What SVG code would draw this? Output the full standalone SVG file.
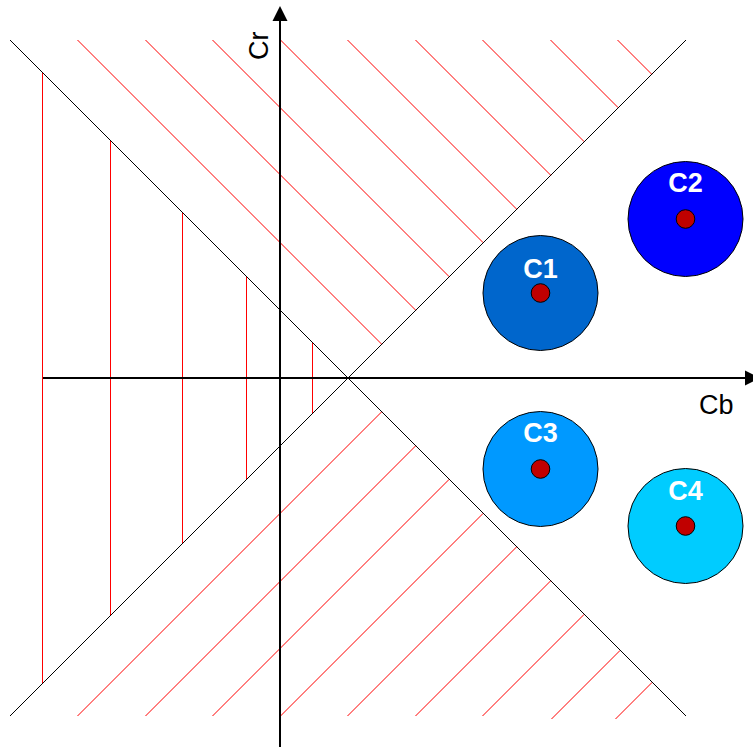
<svg xmlns="http://www.w3.org/2000/svg" width="753" height="747" viewBox="0 0 753 747">
<style>
.hatch{stroke:#ff0000;stroke-width:1;fill:none}
.bound{stroke:#000;stroke-width:1;fill:none}
.axis{stroke:#000;stroke-width:2;fill:none}
.big{stroke:#000;stroke-width:1}
.dot{fill:#c00000;stroke:#000;stroke-width:1}
.lbl{font-family:"Liberation Sans",Arial,sans-serif;font-size:27px;font-weight:bold;fill:#fff;text-anchor:middle}
.ax{font-family:"Liberation Sans",Arial,sans-serif;font-size:27px;fill:#000}
</style>
<rect width="753" height="747" fill="#fff"/>
<g id="connectors">
  <g id="hatch-top">
    <line class="hatch" x1="77.5" y1="40" x2="381.75" y2="344.25"/>
    <line class="hatch" x1="145.5" y1="40" x2="415.75" y2="310.25"/>
    <line class="hatch" x1="212.5" y1="40" x2="449.25" y2="276.75"/>
    <line class="hatch" x1="280.5" y1="40" x2="483.25" y2="242.75"/>
    <line class="hatch" x1="347.5" y1="40" x2="516.75" y2="209.25"/>
    <line class="hatch" x1="415.5" y1="40" x2="550.75" y2="175.25"/>
    <line class="hatch" x1="482.5" y1="40" x2="584.25" y2="141.75"/>
    <line class="hatch" x1="550.5" y1="40" x2="618.25" y2="107.75"/>
    <line class="hatch" x1="617.5" y1="40" x2="651.75" y2="74.25"/>
  </g>
  <g id="hatch-bottom">
    <line class="hatch" x1="77.5" y1="716" x2="381.75" y2="411.75"/>
    <line class="hatch" x1="145.5" y1="716" x2="415.75" y2="445.75"/>
    <line class="hatch" x1="212.5" y1="716" x2="449.25" y2="479.25"/>
    <line class="hatch" x1="280.5" y1="716" x2="483.25" y2="513.25"/>
    <line class="hatch" x1="347.5" y1="716" x2="516.75" y2="546.75"/>
    <line class="hatch" x1="415.5" y1="716" x2="550.75" y2="580.75"/>
    <line class="hatch" x1="482.5" y1="716" x2="584.25" y2="614.25"/>
    <line class="hatch" x1="551.5" y1="719" x2="620.25" y2="650.25"/>
    <line class="hatch" x1="615.5" y1="719" x2="652.25" y2="682.25"/>
  </g>
  <g id="hatch-left">
    <line class="hatch" x1="42.5" y1="72.5" x2="42.5" y2="683.5"/>
    <line class="hatch" x1="110.5" y1="140.5" x2="110.5" y2="615.5"/>
    <line class="hatch" x1="182.5" y1="212.5" x2="182.5" y2="543.5"/>
    <line class="hatch" x1="246.5" y1="276.5" x2="246.5" y2="479.5"/>
    <line class="hatch" x1="312.5" y1="342.5" x2="312.5" y2="413.5"/>
  </g>
  <g id="boundaries">
    <line class="bound" x1="10" y1="40" x2="686" y2="716"/>
    <line class="bound" x1="10" y1="716" x2="686" y2="40"/>
  </g>
  <g id="axes">
    <line class="axis" x1="43" y1="378" x2="746" y2="378"/>
    <polygon points="745,370.5 760,378 745,385.5" fill="#000"/>
    <line class="axis" x1="280" y1="747" x2="280" y2="20"/>
    <polygon points="272.5,21 287.5,21 280,6" fill="#000"/>
    <text class="ax" x="699" y="414">Cb</text>
    <text class="ax" transform="translate(268,60) rotate(-90)" x="0" y="0">Cr</text>
  </g>
</g>
<g id="C1">
  <circle class="big" cx="540.5" cy="293" r="57.5" fill="#0066cc"/>
  <circle class="dot" cx="540.5" cy="293" r="9.3"/>
  <text class="lbl" x="540.5" y="278">C1</text>
</g>
<g id="C2">
  <circle class="big" cx="685.5" cy="219" r="57.5" fill="#0000ff"/>
  <circle class="dot" cx="685.5" cy="219" r="9.3"/>
  <text class="lbl" x="685.5" y="192">C2</text>
</g>
<g id="C3">
  <circle class="big" cx="540.5" cy="469" r="57.5" fill="#0099ff"/>
  <circle class="dot" cx="540.5" cy="469" r="9.3"/>
  <text class="lbl" x="540.5" y="442">C3</text>
</g>
<g id="C4">
  <circle class="big" cx="685.5" cy="526" r="57.5" fill="#00ccff"/>
  <circle class="dot" cx="685.5" cy="526" r="9.3"/>
  <text class="lbl" x="685.5" y="500">C4</text>
</g>
</svg>
